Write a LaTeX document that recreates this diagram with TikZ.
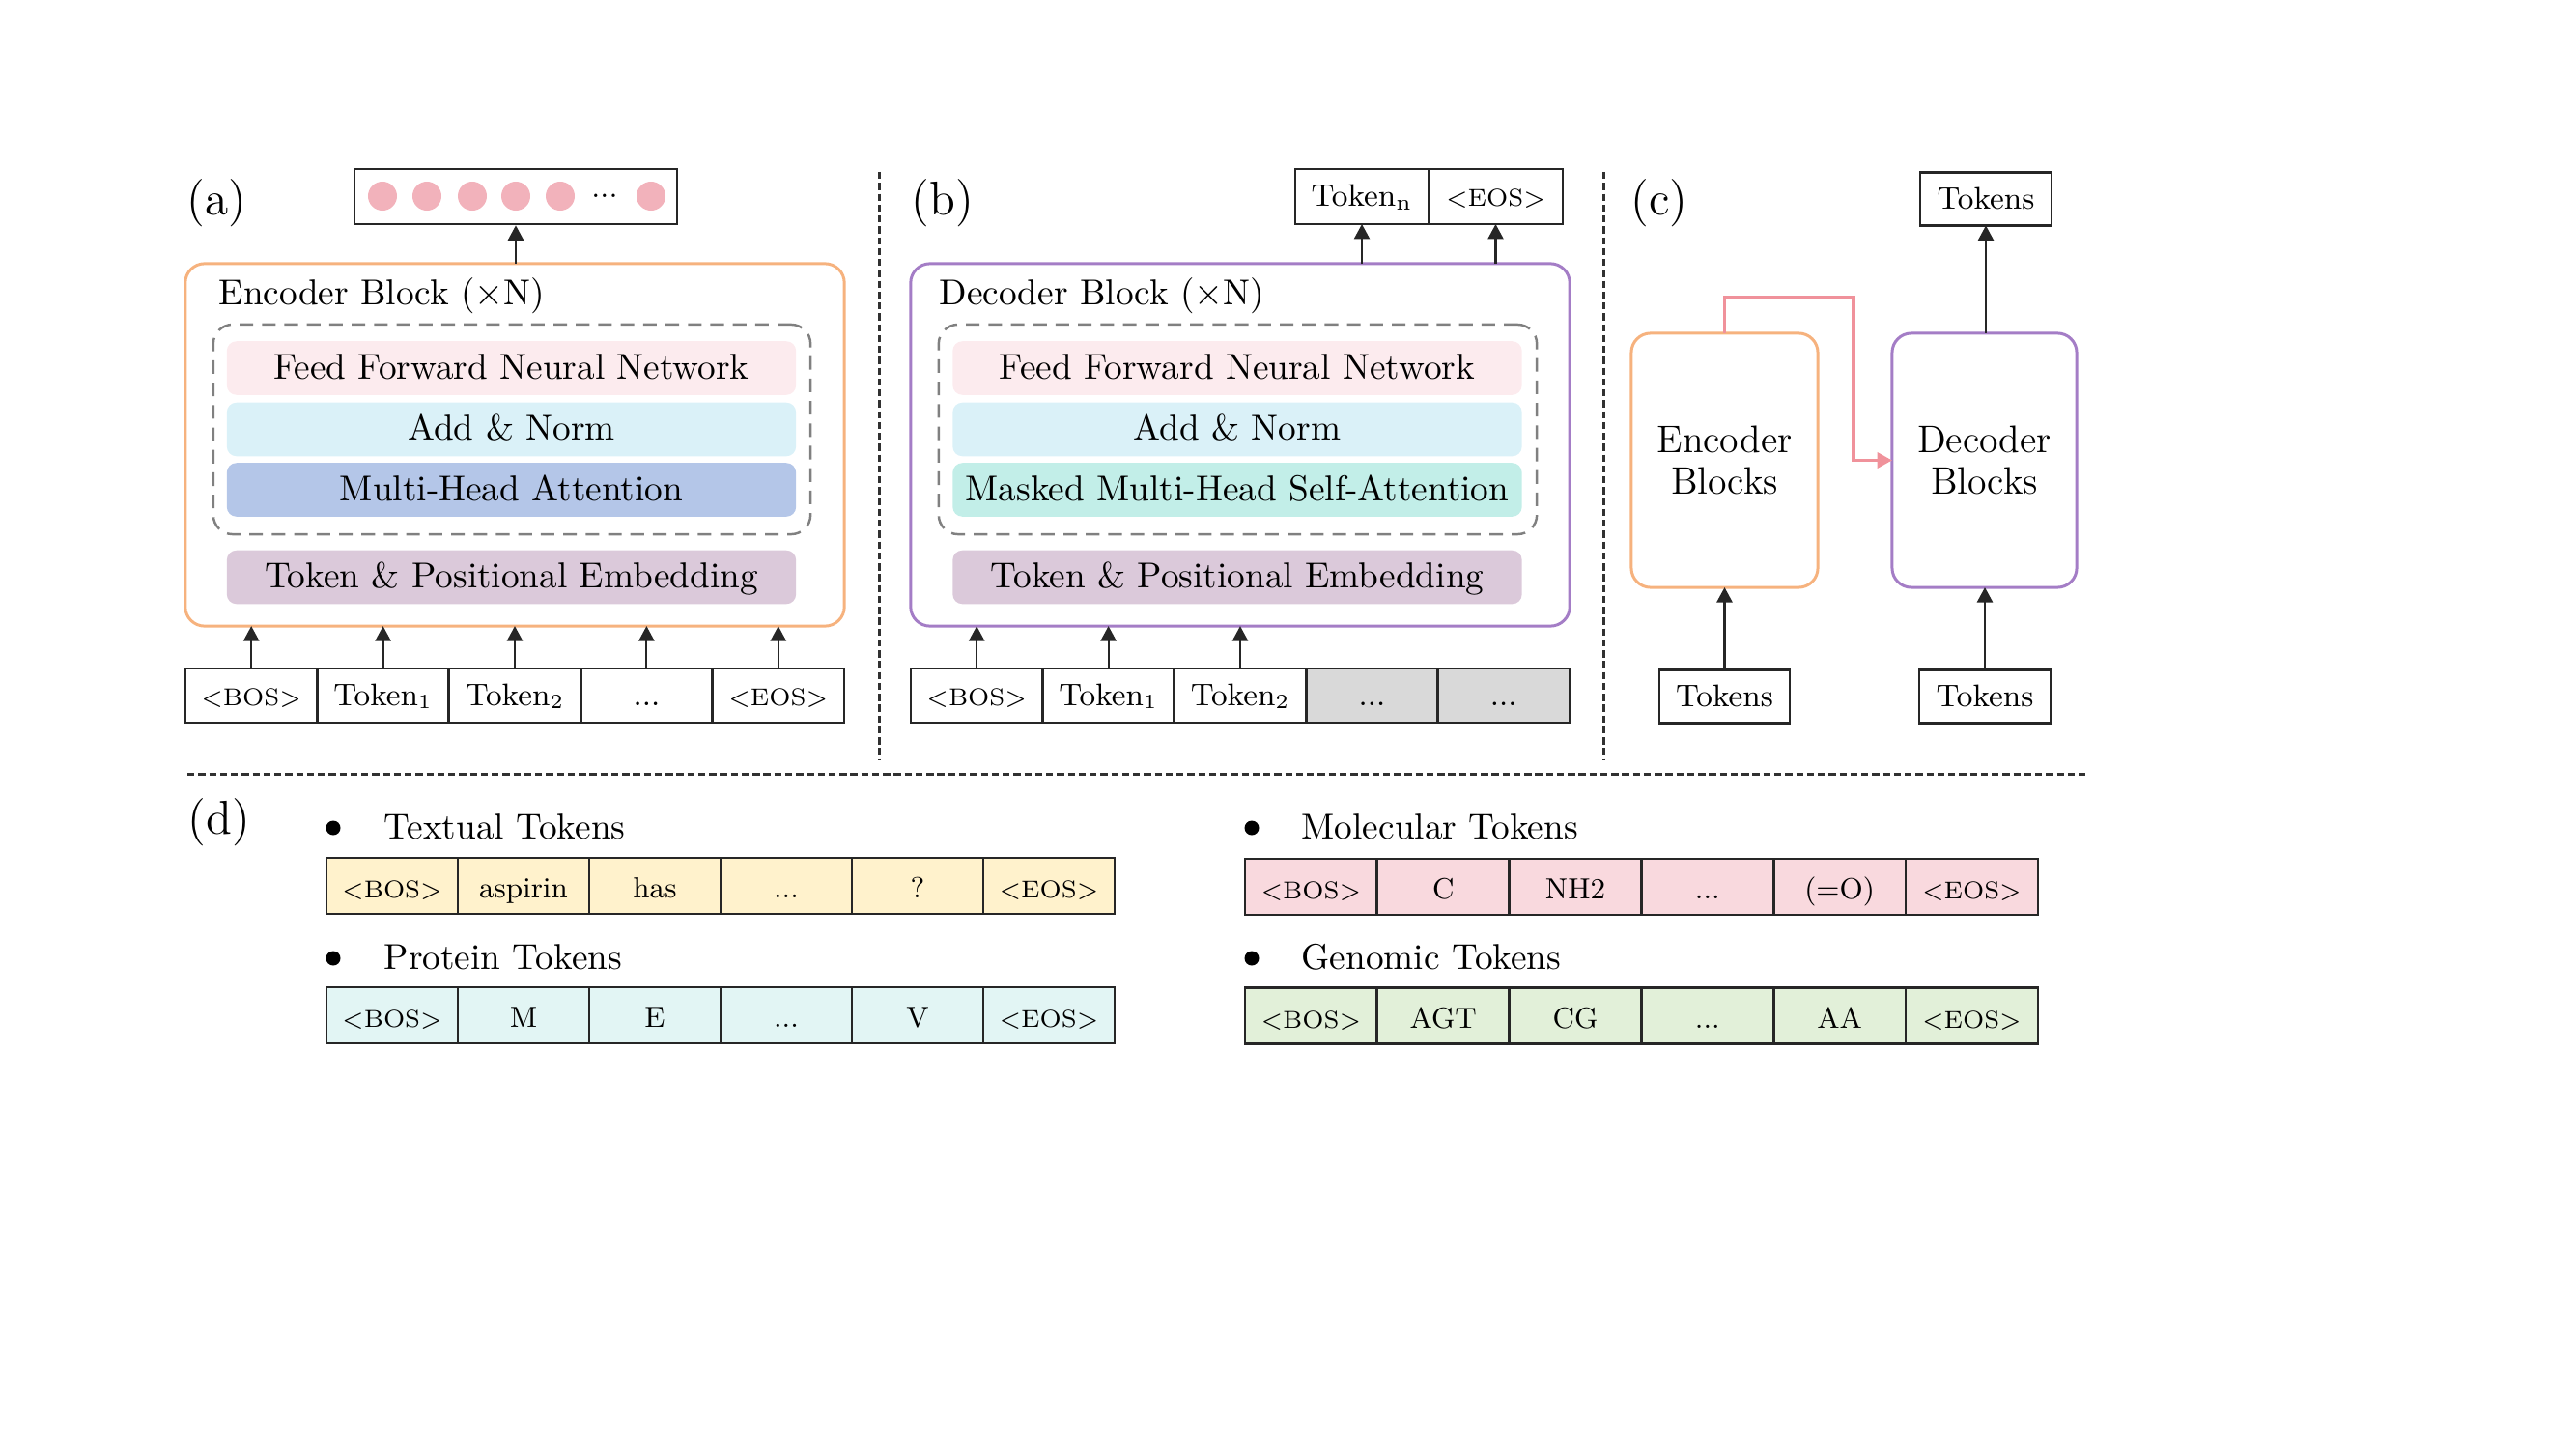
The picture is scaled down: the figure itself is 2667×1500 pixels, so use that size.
\documentclass[tikz,border=0pt]{standalone}
\usepackage{fontspec}
\usetikzlibrary{arrows.meta}
\definecolor{orangeB}{HTML}{F6B27E}
\definecolor{purpleB}{HTML}{A47DC6}
\definecolor{pinkA}{HTML}{F0929B}
\definecolor{circc}{HTML}{F2B2BB}
\definecolor{ffn}{HTML}{FCEBEE}
\definecolor{addn}{HTML}{DAF1F8}
\definecolor{mha}{HTML}{B4C6E8}
\definecolor{mmsa}{HTML}{C2EEE8}
\definecolor{tpe}{HTML}{DBC9DA}
\definecolor{grayc}{HTML}{D9D9D9}
\definecolor{txtc}{HTML}{FFF2CC}
\definecolor{protc}{HTML}{E2F5F4}
\definecolor{molc}{HTML}{F9D9DE}
\definecolor{genc}{HTML}{E2F0D9}
\definecolor{arrowc}{HTML}{262626}
\definecolor{dashg}{HTML}{808080}
\newcommand\fsz[1]{\fontsize{#1pt}{#1pt}\selectfont}
\begin{document}
\begin{tikzpicture}[x=0.01cm,y=-0.01cm,
  blk/.style={draw, line width=0.85pt, rounded corners=0.2cm, inner sep=0pt, outer sep=0pt},
  layer/.style={rounded corners=0.1cm, minimum width=5.89cm, minimum height=0.555cm, inner sep=0pt, outer sep=0pt, font=\fsz{10.6}, text height=8.8pt, text depth=2.3pt},
  cell/.style={draw=arrowc, line width=0.75pt, minimum width=1.364cm, minimum height=0.56cm, inner sep=0pt, outer sep=0pt, font=\fsz{9.2}, text height=8.0pt, text depth=2.2pt},
  scell/.style={cell, font=\fsz{7.2}},
  dcell/.style={draw=arrowc, line width=0.75pt, minimum width=1.36cm, minimum height=0.58cm, inner sep=0pt, outer sep=0pt, font=\fsz{8.6}, text height=9.4pt, text depth=2.1pt},
  dscell/.style={dcell, font=\fsz{7.2}},
  arr/.style={draw=arrowc, line width=0.6pt, -{Triangle[width=4.6pt,length=4.4pt]}},
  sep/.style={draw=arrowc!95, line width=0.85pt, dash pattern=on 2.1pt off 1.1pt},
  panel/.style={font=\fsz{14}, anchor=west, inner sep=0pt},
  ttl/.style={font=\fsz{10.6}, anchor=west, inner sep=0pt},
  head/.style={font=\fsz{10.6}, anchor=west, inner sep=0pt},
  dot/.style={circle, fill=black, minimum size=0.15cm, inner sep=0pt},
  circn/.style={circle, fill=circc, minimum size=0.3cm, inner sep=0pt}
]
\useasboundingbox (0,0) rectangle (2667,1500);

% ---------------- (a) encoder ----------------
\node[panel] (la) at (193,210) {(a)};
\node[blk, draw=orangeB, minimum width=6.82cm, minimum height=3.75cm] (enc) at (533,460.5) {};
\node[ttl] (enct) at (226,306) {Encoder Block ($\times$N)};
\node[draw=dashg, line width=0.7pt, dash pattern=on 4pt off 2.6pt, rounded corners=0.2cm, minimum width=6.18cm, minimum height=2.17cm, inner sep=0pt] (encd) at (530,444.5) {};
\node[layer, fill=ffn] (affn) at (529.5,381) {Feed Forward Neural Network};
\node[layer, fill=addn] (aadd) at (529.5,444.5) {Add \& Norm};
\node[layer, fill=mha] (amha) at (529.5,507) {Multi-Head Attention};
\node[layer, fill=tpe] (atpe) at (529.5,597.5) {Token \& Positional Embedding};
\node[scell] (a1) at (260.2,720) {<BOS>};
\node[cell] (a2) at (396.6,720) {Token$_1$};
\node[cell] (a3) at (533.0,720) {Token$_2$};
\node[cell] (a4) at (669.4,720) {...};
\node[scell] (a5) at (805.8,720) {<EOS>};
\foreach \i in {1,...,5} {\draw[arr] (a\i.north) -- (a\i.north |- enc.south);}
\node[draw=arrowc, line width=0.75pt, minimum width=3.34cm, minimum height=0.57cm, inner sep=0pt] (aout) at (534,203.5) {};
\node[circn] (c1) at (396,203) {};
\node[circn] (c2) at (442,203) {};
\node[circn] (c3) at (489,203) {};
\node[circn] (c4) at (534,203) {};
\node[circn] (c5) at (580,203) {};
\node[font=\fsz{9}, inner sep=0pt] (cd) at (626,203) {...};
\node[circn] (c6) at (674,203) {};
\draw[arr] (enc.north -| aout) -- (aout.south);

% ---------------- (b) decoder ----------------
\node[panel] (lb) at (943,210) {(b)};
\node[blk, draw=purpleB, minimum width=6.82cm, minimum height=3.75cm] (dec) at (1284,460.5) {};
\node[ttl] (dect) at (972,306) {Decoder Block ($\times$N)};
\node[draw=dashg, line width=0.7pt, dash pattern=on 4pt off 2.6pt, rounded corners=0.2cm, minimum width=6.19cm, minimum height=2.17cm, inner sep=0pt] (decd) at (1281.5,444.5) {};
\node[layer, fill=ffn] (bffn) at (1281,381) {Feed Forward Neural Network};
\node[layer, fill=addn] (badd) at (1281,444.5) {Add \& Norm};
\node[layer, fill=mmsa] (bmha) at (1281,507) {Masked Multi-Head Self-Attention};
\node[layer, fill=tpe] (btpe) at (1281,597.5) {Token \& Positional Embedding};
\node[scell] (b1) at (1011.2,720) {<BOS>};
\node[cell] (b2) at (1147.6,720) {Token$_1$};
\node[cell] (b3) at (1284.0,720) {Token$_2$};
\node[cell, fill=grayc] (b4) at (1420.4,720) {...};
\node[cell, fill=grayc] (b5) at (1556.8,720) {...};
\foreach \i in {1,2,3} {\draw[arr] (b\i.north) -- (b\i.north |- dec.south);}
\node[cell, minimum width=1.38cm, minimum height=0.57cm] (o1) at (1410,203.5) {Token$_{\mathrm{n}}$};
\node[scell, minimum width=1.39cm, minimum height=0.57cm] (o2) at (1548.5,203.5) {<EOS>};
\draw[arr] (dec.north -| o1) -- (o1.south);
\draw[arr] (dec.north -| o2) -- (o2.south);

% ---------------- (c) enc-dec ----------------
\node[panel] (lc) at (1688,210) {(c)};
\node[blk, draw=orangeB, minimum width=1.93cm, minimum height=2.63cm, align=center, font=\fsz{11.3}] (encB) at (1785.5,476.5) {Encoder\\[1pt]Blocks};
\node[blk, draw=purpleB, minimum width=1.91cm, minimum height=2.63cm, align=center, font=\fsz{11.3}] (decB) at (2054.5,476.5) {Decoder\\[1pt]Blocks};
\node[cell, minimum width=1.36cm, minimum height=0.55cm] (ctop) at (2056,206) {Tokens};
\node[cell, minimum width=1.35cm, minimum height=0.55cm] (cin1) at (1785.5,721) {Tokens};
\node[cell, minimum width=1.36cm, minimum height=0.55cm] (cin2) at (2055,721) {Tokens};
\draw[arr] (cin1.north) -- (cin1.north |- encB.south);
\draw[arr] (cin2.north) -- (cin2.north |- decB.south);
\draw[arr] (decB.north -| ctop) -- (ctop.south);
\coordinate (pk1) at (1785.5,308);
\coordinate (pk2) at (1919,308);
\coordinate (pk3) at (1919,476.5);
\draw[draw=pinkA, line width=0.95pt, -{Triangle[width=4.6pt,length=4.4pt]}] (encB.north) -- (pk1) -- (pk2) -- (pk3) -- (decB.west);

% ---------------- separators ----------------
\coordinate (s1t) at (910,178); \coordinate (s1b) at (910,786);
\coordinate (s2t) at (1660,178); \coordinate (s2b) at (1660,786);
\coordinate (hl) at (194,801); \coordinate (hr) at (2160,801);
\draw[sep] (s1t) -- (s1b);
\draw[sep] (s2t) -- (s2b);
\draw[sep] (hl) -- (hr);

% ---------------- (d) tokens ----------------
\node[panel] (ld) at (194,851) {(d)};
\node[dot] (d1) at (345,857) {};
\node[head] (h1) at (397,856) {Textual Tokens};
\node[dot] (d2) at (345,992) {};
\node[head] (h2) at (397,991) {Protein Tokens};
\node[dot] (d3) at (1296,857) {};
\node[head] (h3) at (1347,856) {Molecular Tokens};
\node[dot] (d4) at (1296,992) {};
\node[head] (h4) at (1347,991) {Genomic Tokens};

\node[dscell, fill=txtc] (t1) at (406,917) {<BOS>};
\node[dcell, fill=txtc] (t2) at (542,917) {aspirin};
\node[dcell, fill=txtc] (t3) at (678,917) {has};
\node[dcell, fill=txtc] (t4) at (814,917) {...};
\node[dcell, fill=txtc] (t5) at (950,917) {?};
\node[dscell, fill=txtc] (t6) at (1086,917) {<EOS>};

\node[dscell, fill=protc] (p1) at (406,1051) {<BOS>};
\node[dcell, fill=protc] (p2) at (542,1051) {M};
\node[dcell, fill=protc] (p3) at (678,1051) {E};
\node[dcell, fill=protc] (p4) at (814,1051) {...};
\node[dcell, fill=protc] (p5) at (950,1051) {V};
\node[dscell, fill=protc] (p6) at (1086,1051) {<EOS>};

\node[dscell, fill=molc, minimum width=1.368cm] (m1) at (1357.4,918) {<BOS>};
\node[dcell, fill=molc, minimum width=1.368cm] (m2) at (1494.2,918) {C};
\node[dcell, fill=molc, minimum width=1.368cm] (m3) at (1631.0,918) {NH2};
\node[dcell, fill=molc, minimum width=1.368cm] (m4) at (1767.8,918) {...};
\node[dcell, fill=molc, minimum width=1.368cm] (m5) at (1904.6,918) {(=O)};
\node[dscell, fill=molc, minimum width=1.368cm] (m6) at (2041.4,918) {<EOS>};

\node[dscell, fill=genc, minimum width=1.368cm] (g1) at (1357.4,1051.5) {<BOS>};
\node[dcell, fill=genc, minimum width=1.368cm] (g2) at (1494.2,1051.5) {AGT};
\node[dcell, fill=genc, minimum width=1.368cm] (g3) at (1631.0,1051.5) {CG};
\node[dcell, fill=genc, minimum width=1.368cm] (g4) at (1767.8,1051.5) {...};
\node[dcell, fill=genc, minimum width=1.368cm] (g5) at (1904.6,1051.5) {AA};
\node[dscell, fill=genc, minimum width=1.368cm] (g6) at (2041.4,1051.5) {<EOS>};
\end{tikzpicture}
\end{document}
